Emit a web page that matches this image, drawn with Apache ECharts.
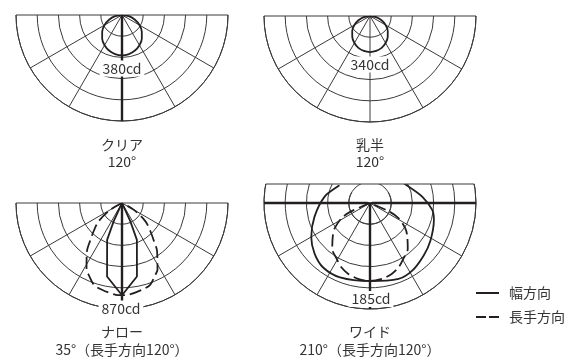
<!DOCTYPE html>
<html>
<head>
<meta charset="utf-8">
<script src="https://cdn.jsdelivr.net/npm/echarts@6/dist/echarts.min.js"></script>
<style>
  html, body { margin: 0; padding: 0; background: #fff; }
  #chart { width: 574px; height: 360px; }
</style>
</head>
<body>
<div id="chart"></div>
<script>
// angles: degrees from straight down, negative = left side. values in cd
const clearAngles = [-90, -80, -70, -60, -50, -40, -30, -20, -10, 0, 10, 20, 30, 40, 50, 60, 70, 80, 90];
const clearCd = [0, 66, 130, 190, 244, 291, 329, 357, 374, 380, 374, 357, 329, 291, 244, 190, 130, 66, 0];

const milkyAngles = [-90, -80, -70, -60, -50, -40, -30, -20, -10, 0, 10, 20, 30, 40, 50, 60, 70, 80, 90];
const milkyCd = [0, 59, 116, 170, 219, 260, 294, 320, 335, 340, 335, 320, 294, 260, 219, 170, 116, 59, 0];

const narrowAngles = [-26, -24.5, -22, -11.5, 0, 11.5, 22, 24.5, 26];
const narrowCd = [0, 190, 375, 707, 870, 707, 375, 190, 0];
const narrowLongAngles = [-68, -60, -52, -45, -40, -36, -28, -25, -19, -13, -4, 0, 4, 13, 19, 25, 28, 36, 40, 45, 52, 60, 68];
const narrowLongCd = [0, 130, 281, 380, 470, 563, 713, 746, 816, 840, 868, 870, 868, 840, 816, 746, 713, 563, 470, 380, 281, 130, 0];

const wideAngles = [-150, -145, -133, -121, -98, -76, -60, -47.6, -36, -22, 0, 20.6, 32, 45.7, 58, 75, 83.5, 97, 113, 127, 140, 148];
const wideCd = [0, 55, 80, 83, 108, 135, 160, 177, 188, 189, 184, 191, 188, 177, 168, 156, 148, 124, 99, 85, 56, 0];
const wideLongAngles = [-75, -66, -62, -54.5, -49, -39.5, -31, -24, -17, -9, 0, 9, 17, 24, 31, 39.5, 49, 54.5, 62, 66, 75];
const wideLongCd = [0, 50, 76, 102, 116, 140, 153, 166, 175, 181, 184, 181, 175, 166, 153, 140, 116, 102, 76, 50, 0];

const scaleMax = [1000, 1000, 1000, 250];
const ringStep = [200, 200, 200, 50];
const peakLabels = ['380cd', '340cd', '870cd', '185cd'];
const typeNames = ['クリア', '乳半', 'ナロー', 'ワイド'];
const beamNames = ['120°', '120°', '35°（長手方向120°）', '210°（長手方向120°）'];
const legendNames = ['幅方向', '長手方向'];

// layout
const R = 106;
const centers = [[122, 15], [370, 16], [122, 203], [370, 203]];
const peakPos = [[122, 68.5], [370, 64.5], [121, 308.5], [371, 299]];
const namePos = [[122, 145], [370, 145], [122, 331.5], [370, 331.5]];
const beamPos = [[122, 162], [370, 162], [122, 350], [370, 350]];
const chordUp = 19; // wide chart: grid cut off this far above the centre
const FONT = '"Noto Sans CJK JP", "Noto Sans", sans-serif';
const INK = '#231f20';
const GRID = '#3a3a3a';

function toPolar(angles, cd) {
    return angles.map((a, i) => [cd[i], a]);
}

const chart = echarts.init(document.getElementById('chart'), null, {renderer: 'canvas'});

const polar = centers.map(c => ({center: c, radius: [0, R]}));
polar.push({center: centers[3], radius: [0, R / 5]}); // inner ring of the wide chart, full circle

const angleAxis = centers.map((c, i) => {
    const wide = i === 3;
    return {
        polarIndex: i,
        type: 'value',
        min: wide ? -120 : -90,
        max: wide ? 120 : 90,
        interval: 30,
        startAngle: wide ? 150 : 180,
        endAngle: wide ? 390 : 360,
        clockwise: false,
        axisLine: {show: true, lineStyle: {color: GRID, width: 1}},
        axisTick: {show: false},
        axisLabel: {show: false},
        splitLine: {
            show: true,
            lineStyle: {
                color: wide
                    ? ['rgba(0,0,0,0)', GRID, GRID, GRID, GRID, GRID, GRID, GRID, 'rgba(0,0,0,0)']
                    : GRID,
                width: 1
            }
        }
    };
});
angleAxis.push({
    polarIndex: 4, type: 'value', min: 0, max: 360, startAngle: 90,
    axisLine: {show: true, lineStyle: {color: GRID, width: 1}},
    axisTick: {show: false}, axisLabel: {show: false}, splitLine: {show: false}
});

const radiusAxis = centers.map((c, i) => ({
    polarIndex: i,
    type: 'value',
    min: 0,
    max: scaleMax[i],
    interval: ringStep[i],
    axisLine: {show: false},
    axisTick: {show: false},
    axisLabel: {show: false},
    splitLine: {show: true, lineStyle: {color: GRID, width: 1}}
}));
radiusAxis.push({polarIndex: 4, type: 'value', min: 0, max: 1, show: false});

function curve(name, idx, data, dashed, smooth) {
    return {
        name: name,
        type: 'line',
        coordinateSystem: 'polar',
        polarIndex: idx,
        data: data,
        symbol: 'none',
        smooth: smooth,
        clip: false,
        silent: true,
        z: 3,
        itemStyle: {color: INK},
        lineStyle: {color: INK, width: 1.8, type: dashed ? [12, 5] : 'solid'}
    };
}

function axisRay(idx, data) {
    return {
        type: 'line', coordinateSystem: 'polar', polarIndex: idx,
        data: data, symbol: 'none', clip: false, silent: true, z: 3,
        lineStyle: {color: INK, width: 2.4}
    };
}

const series = [
    axisRay(0, [[0, 0], [scaleMax[0], 0]]),
    axisRay(2, [[0, 0], [scaleMax[2], 0]]),
    axisRay(3, [[scaleMax[3], 0], [scaleMax[3] * chordUp / R, 180]]),
    axisRay(3, [[scaleMax[3], -90], [scaleMax[3], 90]]),
    curve(legendNames[0], 0, toPolar(clearAngles, clearCd), false, 0.3),
    curve(legendNames[0], 1, toPolar(milkyAngles, milkyCd), false, 0.3),
    curve(legendNames[0], 2, toPolar(narrowAngles, narrowCd), false, false),
    curve(legendNames[1], 2, toPolar(narrowLongAngles, narrowLongCd), true, 0.3),
    curve(legendNames[0], 3, toPolar(wideAngles, wideCd), false, 0.3),
    curve(legendNames[1], 3, toPolar(wideLongAngles, wideLongCd), true, 0.3)
];

// mask above the chord of the wide chart, plus the chord itself
const wc = centers[3];
const chordY = wc[1] - chordUp;
const half = Math.sqrt(R * R - chordUp * chordUp);
const graphics = [
    {type: 'rect', z: 10, silent: true,
     shape: {x: wc[0] - R - 8, y: wc[1] - R * 0.6, width: 2 * R + 16, height: R * 0.6 - chordUp},
     style: {fill: '#fff'}},
    {type: 'line', z: 11, silent: true,
     shape: {x1: wc[0] - half, y1: chordY, x2: wc[0] + half, y2: chordY},
     style: {stroke: GRID, lineWidth: 1}}
];

function label(text, pos, bg) {
    return {
        type: 'text', z: 20, silent: true, x: pos[0], y: pos[1],
        style: {
            text: text, font: '14px ' + FONT, fill: '#333',
            align: 'center', verticalAlign: 'middle',
            backgroundColor: bg ? '#fff' : null, padding: bg ? [1, 3] : 0
        }
    };
}
peakLabels.forEach((t, i) => graphics.push(label(t, peakPos[i], true)));
typeNames.forEach((t, i) => graphics.push(label(t, namePos[i], false)));
beamNames.forEach((t, i) => graphics.push(label(t, beamPos[i], false)));

chart.setOption({
    animation: false,
    backgroundColor: '#fff',
    polar: polar,
    angleAxis: angleAxis,
    radiusAxis: radiusAxis,
    legend: {
        orient: 'vertical',
        left: 470,
        top: 281,
        itemWidth: 23,
        itemHeight: 14,
        itemGap: 10,
        selectedMode: false,
        itemStyle: {opacity: 0},
        data: [
            {name: legendNames[0]},
            {name: legendNames[1], lineStyle: {type: [10, 3]}}
        ],
        textStyle: {fontSize: 14, color: '#333', fontFamily: FONT, padding: [0, 0, 0, 5]}
    },
    series: series,
    graphic: graphics
});
</script>
</body>
</html>
